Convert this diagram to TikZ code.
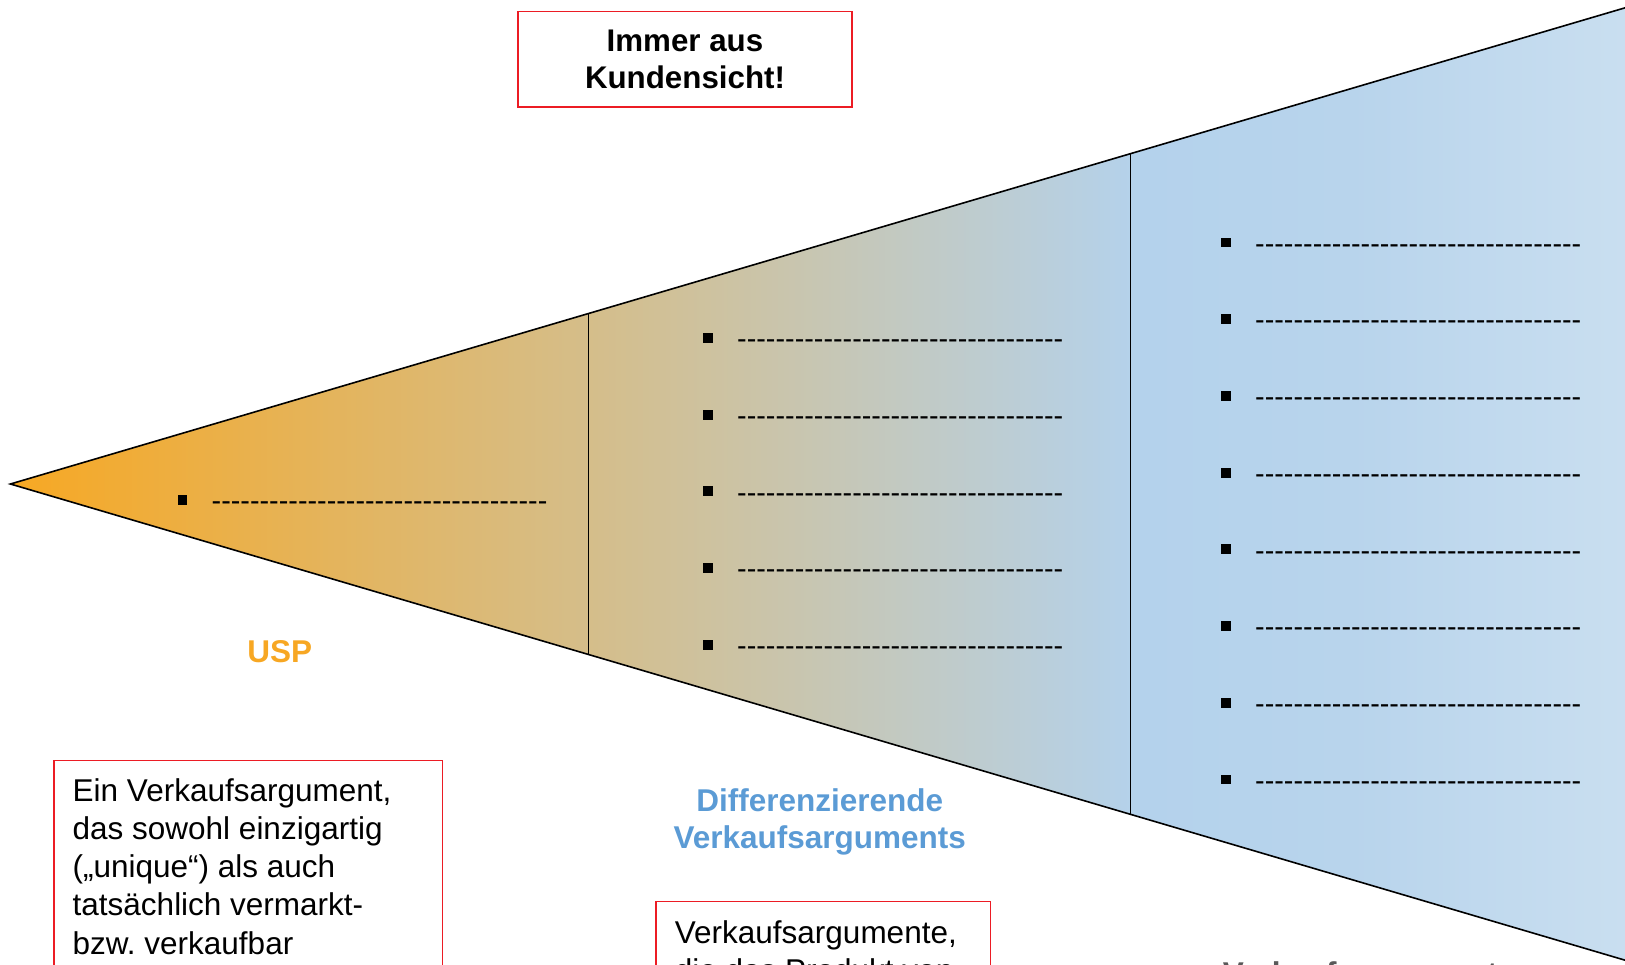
\documentclass[tikz,border=0pt]{standalone}
\usepackage{fontspec}
\setmainfont{Liberation Sans}
\frenchspacing
\definecolor{fanA}{RGB}{247,168,35}
\definecolor{fanB}{RGB}{180,210,236}
\definecolor{fanC}{RGB}{184,212,236}
\definecolor{fanD}{RGB}{202,223,240}
\definecolor{uspOrange}{RGB}{247,167,35}
\definecolor{diffBlue}{RGB}{91,155,213}
\definecolor{boxRed}{RGB}{236,28,36}
\definecolor{vkGray}{RGB}{89,89,89}
\pgfdeclarehorizontalshading{fan}{100bp}{color(0bp)=(fanA); color(25bp)=(fanA); color(59.66bp)=(fanB); color(66.1bp)=(fanC); color(75bp)=(fanD); color(100bp)=(fanD)}
\newcommand\dashrow[1]{\foreach \k in {1,...,#1}{-\kern0pt}}
\tikzset{
  edge/.style={draw=black, line width=1.6pt, line join=miter},
  divider/.style={draw=black, line width=1.5pt},
  redbox/.style={draw=boxRed, line width=1.6pt, fill=none, inner sep=0pt},
  bul/.style={rectangle, fill=black, draw=none, minimum size=9.8pt, inner sep=0pt},
  dashline/.style={anchor=base west, inner sep=0pt, font=\fontsize{28.8}{28.8}\selectfont},
  bodytext/.style={anchor=north west, inner sep=0pt, align=left, font=\fontsize{31.5}{38.3}\selectfont},
  headtext/.style={inner sep=0pt, align=center, font=\bfseries\fontsize{31.5}{37.5}\selectfont}
}
\begin{document}
\begin{tikzpicture}[x=1pt,y=-1pt]
\useasboundingbox (0,0) rectangle (1625,964);
\clip (0,0) rectangle (1625,964);
% funnel
\coordinate (apex) at (10.4,484);
\coordinate (tr) at (1640,3.4);
\coordinate (br) at (1640,964.6);
\shade[shading=fan] (apex) -- (tr) -- (br) -- cycle;
\draw[edge] (tr) -- (apex) -- (br);
\coordinate (v1t) at (588.7,313.5);
\coordinate (v1b) at (588.7,654.5);
\coordinate (v2t) at (1130.7,153.6);
\coordinate (v2b) at (1130.7,814.4);
\draw[divider] (v1t) -- (v1b);
\draw[divider] (v2t) -- (v2b);
% left item
\node[bul] (l1b) at (182.4,499.6) {};
\node[dashline] (l1d) at (211.5,510.3) {\dashrow{35}};
% middle items
\foreach \i in {1,...,5}{
  \pgfmathsetmacro{\yy}{337.9+76.7*(\i-1)}
  \node[bul] (m\i b) at (707.9,\yy) {};
  \node[dashline] (m\i d) at (737,\yy+10.7) {\dashrow{34}};
}
% right items
\foreach \i in {1,...,8}{
  \pgfmathsetmacro{\yy}{242.5+76.7*(\i-1)}
  \node[bul] (r\i b) at (1226,\yy) {};
  \node[dashline] (r\i d) at (1255,\yy+10.7) {\dashrow{34}};
}
% top box
\node[redbox, minimum width=334pt, minimum height=95.4pt, align=center,
      font=\bfseries\fontsize{31.3}{37}\selectfont] (kund) at (685,59.1) {Immer aus\\Kundensicht!};
% labels
\node[headtext, text=uspOrange] (usp) at (279.8,652) {USP};
\node[headtext, text=diffBlue] (diff) at (819.8,822) {Differenzierende\\Verkaufsarguments};
\node[anchor=base, inner sep=0pt, font=\bfseries\fontsize{31.5}{37.5}\selectfont, text=vkGray] (vk) at (1369,984) {Verkaufsargumente};
% left description box
\node[redbox, anchor=north west, minimum width=388.6pt, minimum height=260pt] (uspbox) at (52.9,759.7) {};
\node[bodytext] (usptext) at (72.5,778) {Ein Verkaufsargument,\\das sowohl einzigartig\\(„unique“) als auch\\tatsächlich vermarkt-\\bzw. verkaufbar};
% middle description box
\node[redbox, anchor=north west, minimum width=334.7pt, minimum height=150pt] (diffbox) at (655,900.6) {};
\node[bodytext] (difftext) at (674.7,920) {Verkaufsargumente,\\die das Produkt von};
\end{tikzpicture}
\end{document}
